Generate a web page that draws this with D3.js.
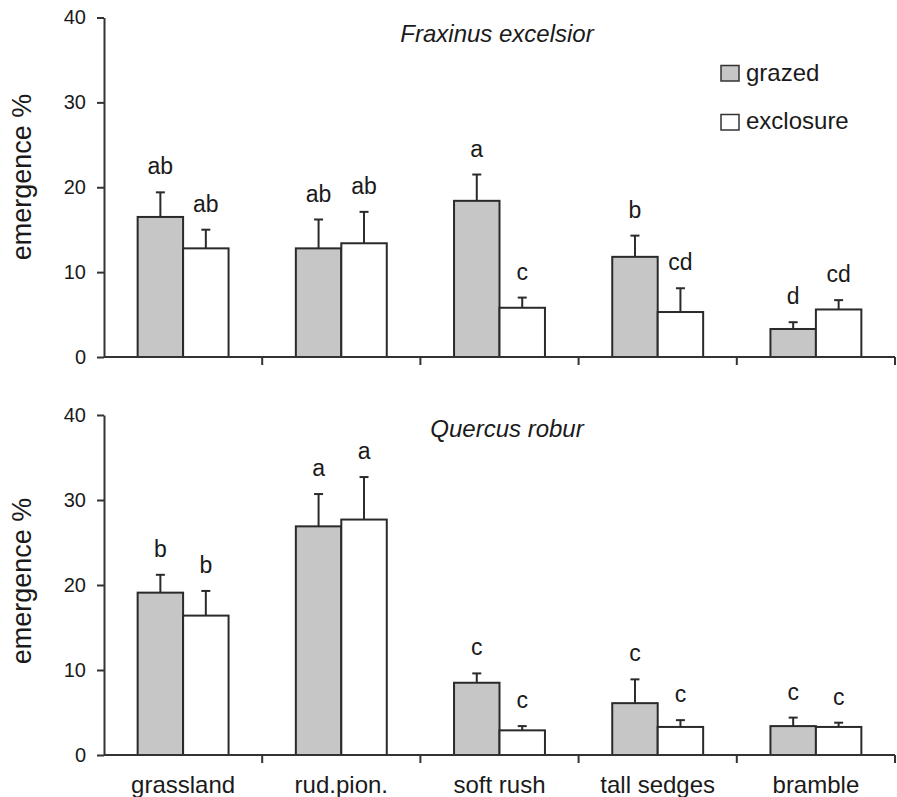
<!DOCTYPE html>
<html lang="en">
  <head>
    <meta http-equiv="Content-Type" content="text/html; charset=utf-8"/>
    <style>
body {
  margin: 0;
  background: #fff;
  overflow: hidden;
}
text {
  font-family: "Liberation Sans", Arial, Helvetica, sans-serif;
  fill: #1a1a1a;
}
.axis path, .axis line {
  stroke: #333;
  stroke-width: 2px;
}
.axis text {
  font-size: 20px;
  fill: #1a1a1a;
}
.bar {
  stroke: #2a2a2a;
  stroke-width: 2px;
}
.err {
  stroke: #2a2a2a;
  stroke-width: 2px;
}
    </style>
  </head>
  <body>
    <svg width="897" height="797"></svg>
    <script src="https://cdn.jsdelivr.net/npm/d3@7"></script>
    <script>

// habitat categories along the x axis
var habitats = ['grassland', 'rud.pion.', 'soft rush', 'tall sedges', 'bramble'];
var treatments = ['grazed', 'exclosure'];
var yTicks = [0, 10, 20, 30, 40];

// Fraxinus excelsior (top panel)
var fraxGrazed = [16.5, 12.8, 18.4, 11.8, 3.3];
var fraxGrazedErr = [2.9, 3.4, 3.1, 2.5, 0.8];
var fraxExcl = [12.8, 13.4, 5.8, 5.3, 5.6];
var fraxExclErr = [2.2, 3.7, 1.2, 2.8, 1.1];
var fraxGrazedLetters = ['ab', 'ab', 'a', 'b', 'd'];
var fraxExclLetters = ['ab', 'ab', 'c', 'cd', 'cd'];

// Quercus robur (bottom panel)
var quercGrazed = [19.1, 26.9, 8.5, 6.1, 3.4];
var quercGrazedErr = [2.1, 3.8, 1.1, 2.8, 1.0];
var quercExcl = [16.4, 27.7, 2.9, 3.3, 3.3];
var quercExclErr = [2.9, 5.0, 0.5, 0.8, 0.5];
var quercGrazedLetters = ['b', 'a', 'c', 'c', 'c'];
var quercExclLetters = ['b', 'a', 'c', 'c', 'c'];

var fills = {grazed: '#c6c6c6', exclosure: '#ffffff'};

var svg = d3.select('svg');

var x0 = d3.scaleBand()
  .domain(habitats)
  .range([104, 895])
  .padding(0);

var x1 = d3.scaleBand()
  .domain(treatments)
  .range([0, x0.bandwidth()])
  .paddingInner(0)
  .paddingOuter(0.74);

function rows(g, gErr, gLet, e, eErr, eLet) {
  var out = [];
  habitats.forEach(function(h, i) {
    out.push({hab: h, trt: 'grazed', v: g[i], err: gErr[i], letter: gLet[i]});
    out.push({hab: h, trt: 'exclosure', v: e[i], err: eErr[i], letter: eLet[i]});
  });
  return out;
}

function drawPanel(data, top, bottom, title, titleX, titleY, labelY, showCats) {
  var y = d3.scaleLinear().domain([0, 40]).range([bottom, top]);
  var g = svg.append('g');

  // bars
  g.selectAll('rect.bar')
    .data(data)
    .enter()
    .append('rect')
    .attr('class', 'bar')
    .attr('x', function(d) { return x0(d.hab) + x1(d.trt); })
    .attr('y', function(d) { return y(d.v); })
    .attr('width', x1.bandwidth())
    .attr('height', function(d) { return y(0) - y(d.v); })
    .style('fill', function(d) { return fills[d.trt]; });

  // upper error bars
  var cx = function(d) { return x0(d.hab) + x1(d.trt) + x1.bandwidth() / 2; };
  g.selectAll('line.stem')
    .data(data)
    .enter()
    .append('line')
    .attr('class', 'err')
    .attr('x1', cx).attr('x2', cx)
    .attr('y1', function(d) { return y(d.v); })
    .attr('y2', function(d) { return y(d.v + d.err); });
  g.selectAll('line.cap')
    .data(data)
    .enter()
    .append('line')
    .attr('class', 'err')
    .attr('x1', function(d) { return cx(d) - 4.5; })
    .attr('x2', function(d) { return cx(d) + 4.5; })
    .attr('y1', function(d) { return y(d.v + d.err); })
    .attr('y2', function(d) { return y(d.v + d.err); });

  // significance letters
  g.selectAll('text.letter')
    .data(data)
    .enter()
    .append('text')
    .attr('x', cx)
    .attr('y', function(d) { return y(d.v + d.err) - 18; })
    .attr('text-anchor', 'middle')
    .style('font-size', '23px')
    .text(function(d) { return d.letter; });

  // y axis
  g.append('g')
    .attr('class', 'axis')
    .attr('transform', 'translate(104,0)')
    .call(d3.axisLeft(y).tickValues(yTicks).tickSize(7).tickPadding(11).tickSizeOuter(0));

  // x axis with ticks between categories
  var xa = g.append('g')
    .attr('class', 'axis')
    .attr('transform', 'translate(0,' + bottom + ')');
  xa.append('line')
    .attr('x1', x0.range()[0]).attr('x2', x0.range()[1])
    .attr('y1', 0).attr('y2', 0);
  xa.selectAll('line.sep')
    .data(habitats)
    .enter()
    .append('line')
    .attr('x1', function(d) { return x0(d) + x0.bandwidth(); })
    .attr('x2', function(d) { return x0(d) + x0.bandwidth(); })
    .attr('y1', 0).attr('y2', 8);

  if (showCats) {
    xa.selectAll('text.cat')
      .data(habitats)
      .enter()
      .append('text')
      .attr('x', function(d) { return x0(d) + x0.bandwidth() / 2; })
      .attr('y', 38)
      .attr('text-anchor', 'middle')
      .style('font-size', '24px')
      .text(function(d) { return d; });
  }

  // y label
  g.append('text')
    .attr('transform', 'translate(31,' + labelY + ') rotate(-90)')
    .attr('text-anchor', 'middle')
    .style('font-size', '27px')
    .text('emergence %');

  // species title
  g.append('text')
    .attr('x', titleX)
    .attr('y', titleY)
    .attr('text-anchor', 'middle')
    .style('font-size', '24px')
    .style('font-style', 'italic')
    .text(title);
}

drawPanel(rows(fraxGrazed, fraxGrazedErr, fraxGrazedLetters, fraxExcl, fraxExclErr, fraxExclLetters),
  17.5, 357, 'Fraxinus excelsior', 497, 42, 177, false);
drawPanel(rows(quercGrazed, quercGrazedErr, quercGrazedLetters, quercExcl, quercExclErr, quercExclLetters),
  415, 755, 'Quercus robur', 507, 437, 581, true);

// legend
var legend = svg.append('g');
legend.selectAll('rect')
  .data(treatments)
  .enter()
  .append('rect')
  .attr('x', 721)
  .attr('y', function(d, i) { return 65.5 + i * 49; })
  .attr('width', 18)
  .attr('height', 15.5)
  .style('fill', function(d) { return fills[d]; })
  .style('stroke', '#333')
  .style('stroke-width', 1.5);
legend.selectAll('text')
  .data(treatments)
  .enter()
  .append('text')
  .attr('x', 746)
  .attr('y', function(d, i) { return 81 + i * 48; })
  .style('font-size', '24px')
  .text(function(d) { return d; });

    </script>
  </body>
</html>
